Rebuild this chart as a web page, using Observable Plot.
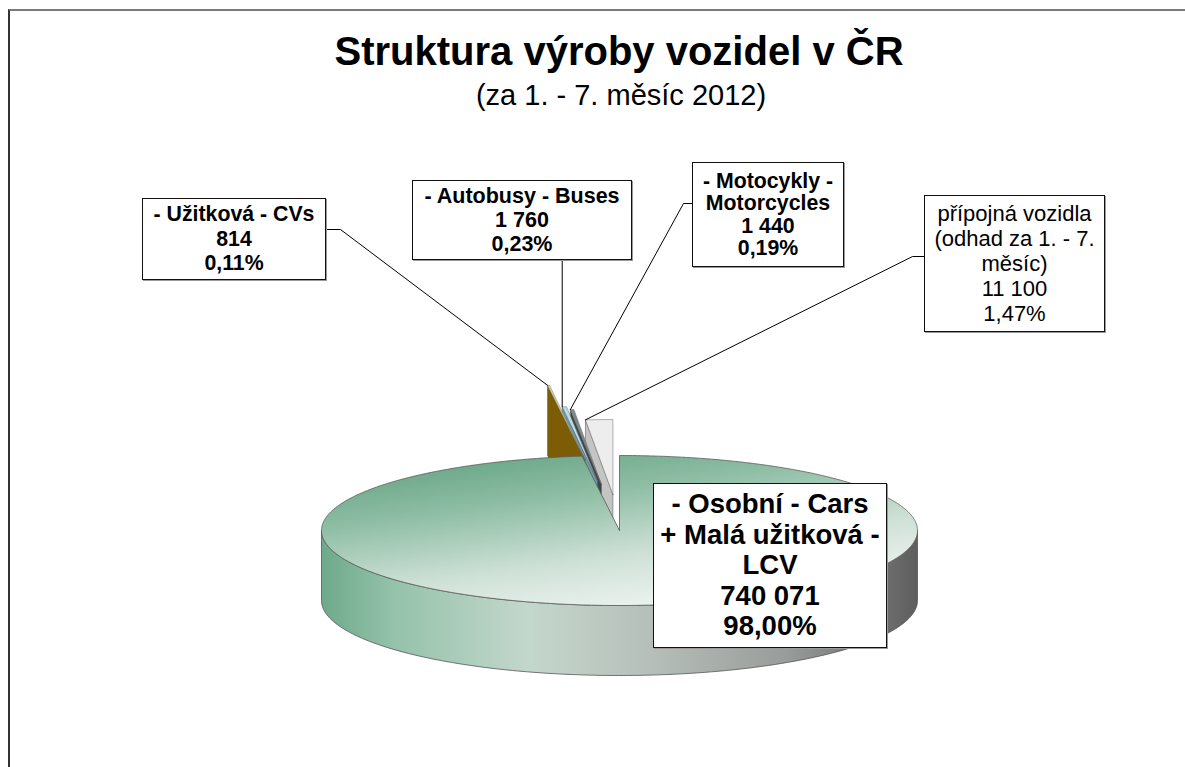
<!DOCTYPE html>
<html>
<head>
<meta charset="utf-8">
<script src="https://cdn.jsdelivr.net/npm/d3@7"></script>
<script src="https://cdn.jsdelivr.net/npm/@observablehq/plot@0.6"></script>
<style>
  html, body { margin: 0; padding: 0; background: #fff; }
  body { width: 1185px; height: 767px; overflow: hidden; position: relative; font-family: "Liberation Sans", Arial, sans-serif; color: #000; }
  #frame { position: absolute; left: 8px; top: 9px; width: 1250px; height: 820px; box-sizing: border-box;
           border-top: 2px solid #7a7a7a; border-left: 2px solid #333; }
  #chart { position: absolute; left: 0; top: 0; }
  #title { position: absolute; left: 0; width: 1238px; top: 31px; text-align: center; font-weight: bold; font-size: 40px; line-height: 40px; }
  #subtitle { position: absolute; left: 0; width: 1242px; top: 81px; text-align: center; font-size: 29px; line-height: 29px; }
  .lbl { position: absolute; box-sizing: border-box; background: #fff; border: 1px solid #111;
         box-shadow: 1px 1px 0 #9a9a9a; display: flex; align-items: center; justify-content: center;
         text-align: center; white-space: pre; }
</style>
</head>
<body>
<div id="frame"></div>
<div id="chart"></div>
<div id="title">Struktura výroby vozidel v ČR</div>
<div id="subtitle">(za 1. - 7. měsíc 2012)</div>
<script>
// ---------------- data ----------------
const categories = [
  "- Osobní - Cars\n+ Malá užitková -\nLCV",
  "- Užitková - CVs",
  "- Autobusy - Buses",
  "- Motocykly -\nMotorcycles",
  "přípojná vozidla\n(odhad za 1. - 7.\nměsíc)"
];
const values = [740071, 814, 1760, 1440, 11100];

// ---------------- styling / layout ----------------
const topColors  = ["url(#carsTop)", "#e8de9e", "#bcdbe6", "#7d8a8c", "#ededed"];
const faceColors = ["#8a8a8a", "#7d5c06", "#6f9cab", "#3d4547", "#c4c4c4"];
const explode = [0, 0.95, 0.66, 0.62, 0.48];      // slice explosion (fraction of radius)
const depth = 70 / 75;                              // pie thickness in y-units
// label boxes (page px)
const boxes = [
  {left: 653, top: 483, w: 234, h: 165, size: 27.5, bold: true,  lh: 30.5},
  {left: 142, top: 198, w: 184, h: 82,  size: 21.3, bold: true,  lh: 24.5},
  {left: 412, top: 180, w: 220, h: 80,  size: 21.5, bold: true,  lh: 24},
  {left: 692, top: 162, w: 152, h: 105, size: 21.3, bold: true,  lh: 22.5},
  {left: 924, top: 195, w: 181, h: 137, size: 22, bold: false, lh: 25}
];
// leader line elbows (page px), ending at slice anchor
const elbows = [
  null,
  [[326, 229], [340, 229]],
  [["anchor", 260]],
  [[692, 203], [683, 203]],
  [[924, 256], [912, 256]]
];

// ---------------- geometry ----------------
const W = 1185, H = 767;
const xRange = [321, 917], yRange = [455, 605];
const xs = d3.scaleLinear().domain([-1, 1]).range(xRange);
const ys = d3.scaleLinear().domain([-1, 1]).range(yRange);

const total = d3.sum(values);
const pie = d3.pie().sort(null).value(d => d)(values);

const fmtNum = v => d3.format(",")(v).replace(/,/g, " ");
const fmtPct = v => d3.format(".2f")(v * 100).replace(".", ",") + "%";

function pt(theta, o, z = 0) {
  return {x: o.u + Math.sin(theta), y: o.v - Math.cos(theta) + z};
}
function arcPts(a0, a1, o, z = 0, n = 240) {
  const out = [];
  const steps = Math.max(2, Math.ceil(Math.abs(a1 - a0) / (2 * Math.PI) * n));
  for (let k = 0; k <= steps; k++) out.push(pt(a0 + (a1 - a0) * k / steps, o, z));
  return out;
}

const slices = pie.map((p, i) => {
  const mid = (p.startAngle + p.endAngle) / 2;
  const o = {u: explode[i] * Math.sin(mid), v: -explode[i] * Math.cos(mid)};
  return {i, p, o, a0: p.startAngle, a1: p.endAngle};
});

const polys = []; // {pts, fill, stroke, sw}
const small = slices.filter(s => s.i > 0);
// cut faces of the small exploded slices: nearest first, the far (brown) one on top
for (const s of [...small].sort((a, b) => explode[a.i] - explode[b.i])) {
  const c = {x: s.o.u, y: s.o.v};
  const r0 = pt(s.a0, s.o);
  polys.push({pts: [c, r0, {x: r0.x, y: r0.y + depth}, {x: c.x, y: c.y + depth}, c],
              fill: faceColors[s.i], stroke: "#4a4a4a", sw: 0.5});
}
// their top faces, far to near
for (const s of [...small].sort((a, b) => explode[b.i] - explode[a.i])) {
  const c = {x: s.o.u, y: s.o.v};
  polys.push({pts: [c, ...arcPts(s.a0, s.a1, s.o), c],
              fill: topColors[s.i], stroke: "#6a6a6a", sw: 0.5});
}
// main slice: outer wall (front half) then top face
const cars = slices[0];
const wallTop = arcPts(Math.PI / 2, 3 * Math.PI / 2, cars.o);
const wallBot = arcPts(3 * Math.PI / 2, Math.PI / 2, cars.o, depth);
polys.push({pts: [...wallTop, ...wallBot, wallTop[0]], fill: "url(#carsSide)", stroke: "#555", sw: 0.8});
const cc = {x: cars.o.u, y: cars.o.v};
polys.push({pts: [cc, ...arcPts(cars.a0, cars.a1, cars.o, 0, 720), cc], fill: topColors[0], stroke: "#5a5a5a", sw: 0.8});

// leader lines
const leaders = [];
slices.forEach(s => {
  const el = elbows[s.i];
  if (!el) return;
  const a = pt(s.a0, s.o);
  const line = el.map(([px, py]) => ({x: px === "anchor" ? a.x : xs.invert(px), y: ys.invert(py)}));
  line.push(a);
  leaders.push(line);
});

const marks = [];
polys.forEach(pg => marks.push(Plot.line(pg.pts, {x: "x", y: "y", fill: pg.fill, stroke: pg.stroke, strokeWidth: pg.sw, curve: "linear"})));
leaders.forEach(l => marks.push(Plot.line(l, {x: "x", y: "y", stroke: "#000", strokeWidth: 1})));

const svg = Plot.plot({
  width: W, height: H,
  margin: 0,
  x: {domain: [-1, 1], range: xRange, axis: null},
  y: {domain: [-1, 1], range: yRange, axis: null},
  style: {background: "transparent", overflow: "visible"},
  marks
});

// gradients
const defs = document.createElementNS("http://www.w3.org/2000/svg", "defs");
defs.innerHTML = `
  <linearGradient id="carsTop" x1="0.08" y1="0" x2="0.62" y2="1">
    <stop offset="0" stop-color="#5f9f80"/>
    <stop offset="0.35" stop-color="#8fbea5"/>
    <stop offset="0.7" stop-color="#cfe1d7"/>
    <stop offset="1" stop-color="#eef4f1"/>
  </linearGradient>
  <linearGradient id="carsSide" x1="0" y1="0" x2="1" y2="0">
    <stop offset="0" stop-color="#6ea98b"/>
    <stop offset="0.12" stop-color="#94c2aa"/>
    <stop offset="0.35" stop-color="#c4d7cc"/>
    <stop offset="0.55" stop-color="#b6bfba"/>
    <stop offset="0.78" stop-color="#999c9a"/>
    <stop offset="1" stop-color="#5e5e5e"/>
  </linearGradient>`;
svg.insertBefore(defs, svg.firstChild);
document.getElementById("chart").appendChild(svg);

// label boxes
slices.forEach(s => {
  const b = boxes[s.i];
  const d = document.createElement("div");
  d.className = "lbl";
  Object.assign(d.style, {
    left: b.left + "px", top: b.top + "px", width: b.w + "px", height: b.h + "px",
    fontSize: b.size + "px", lineHeight: b.lh + "px", fontWeight: b.bold ? "bold" : "normal"
  });
  d.textContent = categories[s.i] + "\n" + fmtNum(values[s.i]) + "\n" + fmtPct(values[s.i] / total);
  document.body.appendChild(d);
});
</script>
</body>
</html>
